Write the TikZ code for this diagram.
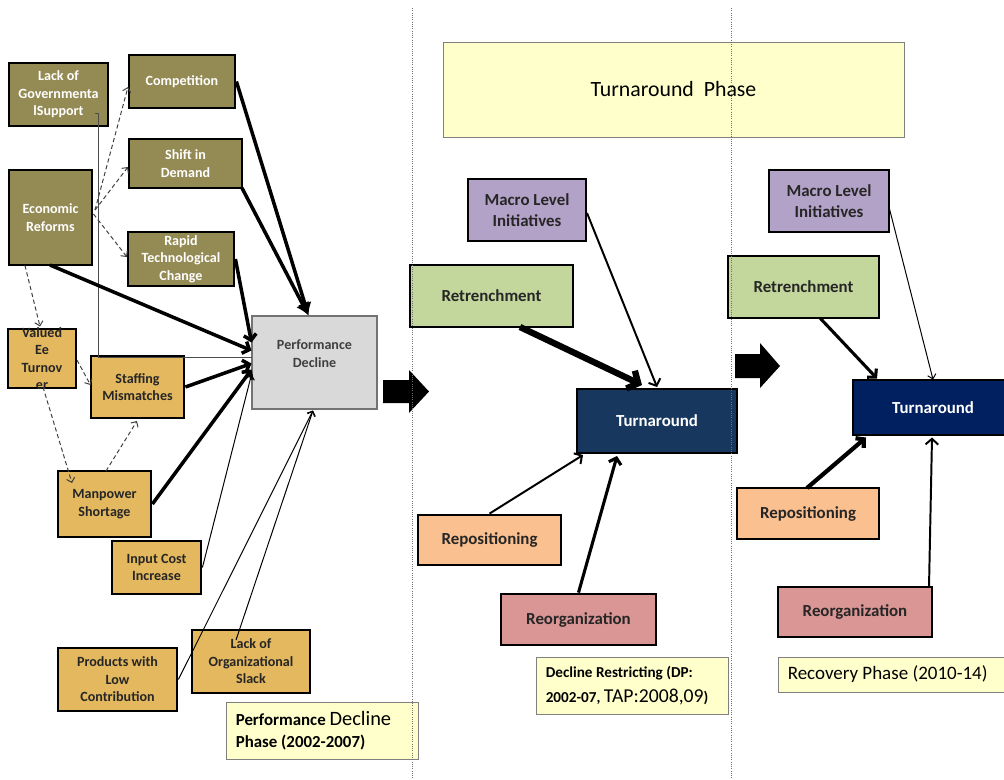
\documentclass[tikz,border=0pt]{standalone}
\usepackage{fontspec}
\setmainfont{Carlito}
\usetikzlibrary{arrows.meta,calc}
\definecolor{olivefill}{HTML}{948A54}
\definecolor{goldfill}{HTML}{E3B85E}
\definecolor{perffill}{HTML}{D9D9D9}
\definecolor{labelfill}{HTML}{FFFFCC}
\definecolor{purplefill}{HTML}{B3A2C7}
\definecolor{greenfill}{HTML}{C3D69B}
\definecolor{orangefill}{HTML}{FAC090}
\definecolor{pinkfill}{HTML}{D99694}
\definecolor{navyA}{HTML}{17375E}
\definecolor{navyB}{HTML}{002060}
\definecolor{dottedgrey}{HTML}{707070}
\begin{document}
\begin{tikzpicture}[x=0.025cm,y=-0.025cm,
  sz/.style 2 args={minimum width={#1*0.025cm}, minimum height={#2*0.025cm}},
  base/.style={draw=black, line width=2pt, inner sep=0pt, align=center},
  smallfont/.style={font=\bfseries\fontsize{10}{12.4}\selectfont},
  midfont/.style={font=\bfseries\fontsize{12}{15}\selectfont},
  olivebox/.style={base, smallfont, fill=olivefill, text=white},
  goldbox/.style={base, smallfont, fill=goldfill, text=black!85},
  goldtext/.style={inner sep=0pt, align=center, smallfont, text=black!85},
  perfbox/.style={draw=black!55, line width=0.8pt, fill=perffill, inner sep=0pt},
  perftext/.style={inner sep=0pt, align=center, smallfont, text=black!75},
  labelbox/.style={draw=black!50, line width=0.7pt, fill=labelfill, inner sep=0pt},
  labeltext/.style={inner sep=0pt, anchor=west, align=left, text=black},
  purplebox/.style={base, midfont, fill=purplefill, text=black!85},
  greenbox/.style={base, midfont, fill=greenfill, text=black!85},
  orangebox/.style={base, midfont, fill=orangefill, text=black!85},
  pinkbox/.style={base, midfont, fill=pinkfill, text=black!85},
  turnbox/.style={base, midfont, text=white},
  dashedarrow/.style={draw=black!75, line width=0.7pt, dash pattern=on 3pt off 2pt,
    -{Straight Barb[length=3pt,width=6pt]}},
  heavyarrow/.style={draw=black, line width=2.5pt, -{Latex[length=9pt,width=10pt]}},
  heavybarb/.style={draw=black, line width=2.5pt, -{Straight Barb[length=4pt,width=9pt]}},
  thinarrow/.style={draw=black, line width=0.7pt, -{Straight Barb[length=3pt,width=6pt]}},
  plainline/.style={draw=black!70, line width=0.7pt},
  barb/.style={draw=black, line width=#1, -{Straight Barb[length=4pt,width=9pt]}},
  phaseline/.style={draw=dottedgrey, line width=0.6pt, densely dotted},
  blockarrow/.style={fill=black}
]
\useasboundingbox (0,0) rectangle (1004,779);

% ---------- Left panel boxes ----------
\node[olivebox, sz={99}{63}] (gov) at (58.5,94.5) {Lack of\\Governmenta\\lSupport};
\node[olivebox, sz={106}{53}] (comp) at (182,81.5) {Competition};
\node[olivebox, sz={113}{49}] (shift) at (185.5,163.5) {Shift in\\Demand};
\node[olivebox, sz={83}{95}] (econ) at (50.5,217.5) {Economic\\Reforms};
\node[olivebox, sz={106}{54}] (rapid) at (181,259) {Rapid\\Technological\\Change};

\node[goldbox, sz={68}{59}] (valued) at (42,358.5) {};
\node[goldtext] (valuedtxt) at (valued.center) {Valued\\Ee\\Turnov\\er};
\node[goldbox, sz={93}{62}] (staff) at (137.5,387) {Staffing\\Mismatches};
\node[goldbox, sz={93}{66}] (man) at (104.5,504) {Manpower\\Shortage};
\node[goldbox, sz={89}{53}] (input) at (156.5,567.5) {Input Cost\\Increase};
\node[goldbox, sz={119}{63}] (prod) at (117.5,679.5) {Products with\\Low\\Contribution};
\node[goldbox, sz={118}{63}] (slack) at (251,661.5) {Lack of\\Organizational\\Slack};

\node[perfbox, sz={125}{93}] (perf) at (314.5,362.5) {};
\node[perftext] (perftxt) at ($(perf.center)+(0,-9)$) {Performance\\Decline};

\node[labelbox, sz={192}{57}] (perfphase) at (322,730.5) {};
\node[labeltext, font=\bfseries\fontsize{12}{16}\selectfont] (perfphasetxt) at ($(perfphase.west)+(10,0)$)
  {Performance {\mdseries\fontsize{14.5}{16}\selectfont Decline}\\Phase (2002-2007)};

% ---------- Middle panel boxes ----------
\node[labelbox, sz={461}{95}, font=\fontsize{15.5}{18}\selectfont] (tphase) at (673.5,89.5) {Turnaround\ \ Phase};
\node[purplebox, sz={118}{62}] (macroA) at (527,210) {Macro Level\\Initiatives};
\node[greenbox, sz={163}{62}] (retrA) at (491.5,296) {Retrenchment};
\node[turnbox, fill=navyA, sz={160}{64}] (turnA) at (657,421) {Turnaround};
\node[orangebox, sz={143}{50}] (repoA) at (489.5,540) {Repositioning};
\node[pinkbox, sz={155}{51}] (reorgA) at (578.5,619.5) {Reorganization};
\node[labelbox, sz={192}{57}] (drlabel) at (632,685.5) {};
\node[labeltext, font=\bfseries\fontsize{10.8}{17.5}\selectfont] (drlabeltxt) at ($(drlabel.west)+(10,0)$)
  {Decline Restricting (DP:\\2002-07, {\mdseries\fontsize{14}{17.5}\selectfont TAP:2008,09})};

% ---------- Right panel boxes ----------
\node[purplebox, sz={120}{62}] (macroB) at (829,201) {Macro Level\\Initiatives};
\node[greenbox, sz={151}{62}] (retrB) at (803.5,287) {Retrenchment};
\node[turnbox, fill=navyB, sz={160}{55}] (turnB) at (933,407.5) {Turnaround};
\node[orangebox, sz={142}{51}] (repoB) at (808,513.5) {Repositioning};
\node[pinkbox, sz={154}{50}] (reorgB) at (855,612) {Reorganization};
\node[labelbox, sz={234}{35}] (reclabel) at (895,674.5) {};
\node[labeltext, font=\fontsize{13.5}{16}\selectfont] (reclabeltxt) at ($(reclabel.west)+(10,0)$)
  {Recovery Phase (2010-14)};

% ---------- Left panel connectors ----------
\draw[plainline] ($(gov.center)+(36.5,18.5)$) -- ++(3,0) |- ($(perf.center)+(-62.5,-5.5)$);

\draw[dashedarrow] ($(econ.center)+(44.5,-7.5)$) -- ($(comp.center)+(-54,5.5)$);
\draw[dashedarrow] ($(econ.center)+(44.5,-7.5)$) -- ($(shift.center)+(-57.5,3.5)$);
\draw[dashedarrow] ($(econ.center)+(43,-3.5)$) -- ($(rapid.center)+(-54,-2)$);
\draw[dashedarrow] ($(econ.center)+(-25.5,48)$) -- ($(valued.center)+(-2,-32)$);
\draw[dashedarrow] ($(valued.center)+(35,1.5)$) -- ($(staff.center)+(-47,-2)$);
\draw[dashedarrow] ($(valued.center)+(1,28.5)$) -- ($(man.center)+(-32.5,-21)$);
\draw[dashedarrow] ($(man.center)+(1.5,-33)$) -- ($(staff.center)+(-0.5,34)$);

\draw[heavyarrow] (comp.east) -- ($(perf.center)+(-6,-47)$);
\draw[heavyarrow] ($(shift.center)+(56.5,24.5)$) -- ($(perf.center)+(-6,-47)$);
\draw[heavybarb] (rapid.east) -- ($(perf.center)+(-63,-20)$);
\draw[heavybarb] ($(econ.center)+(-0.5,47.5)$) -- ($(perf.center)+(-63,-12)$);
\draw[heavybarb] (staff.east) -- ($(perf.center)+(-63,1)$);
\draw[heavybarb] (man.east) -- ($(perf.center)+(-63,7)$);

\draw[thinarrow] (input.east) -- ($(perf.center)+(-63,12)$);
\draw[thinarrow] (prod.east) -- ($(perf.center)+(-1.5,48)$);
\draw[thinarrow] ($(slack.center)+(-15,-21.5)$) -- ($(perf.center)+(-1.5,48)$);

% ---------- Middle panel connectors ----------
\draw[barb=1.4pt] ($(macroA.center)+(60,3)$) -- ($(turnA.center)+(0,-34)$);
\draw[draw=black, line width=4.5pt, -{Straight Barb[length=6pt,width=14pt]}]
  ($(retrA.center)+(28.5,31)$) -- ($(turnA.center)+(-15,-36)$);
\draw[barb=1.4pt] (repoA.north) -- ($(turnA.center)+(-74,34)$);
\draw[barb=2.2pt] (reorgA.north) -- ($(turnA.center)+(-40,35)$);

% ---------- Right panel connectors ----------
\draw[thinarrow] ($(macroB.center)+(60,6)$) -- ($(turnB.center)+(0,-28)$);
\draw[barb=2.2pt] ($(retrB.center)+(16.5,31)$) -- ($(turnB.center)+(-56,-29)$);
\draw[barb=3pt] ($(repoB.center)+(-1,-25.5)$) -- ($(turnB.center)+(-67,30)$);
\draw[barb=1.4pt] ($(reorgB.center)+(74,-25)$) -- ($(turnB.center)+(-1,30)$);

% ---------- Block arrows between phases ----------
\fill[blockarrow] (383,380) -- (409,380) -- (409,370) -- (429,391.5) -- (409,413) -- (409,403) -- (383,403) -- cycle;
\fill[blockarrow] (735,354) -- (760,354) -- (760,343) -- (780,366) -- (760,388) -- (760,378) -- (735,378) -- cycle;

% ---------- Phase separators ----------
\draw[phaseline] (412,8) -- (412,779);
\draw[phaseline] (731,8) -- (731,779);
\end{tikzpicture}
\end{document}
